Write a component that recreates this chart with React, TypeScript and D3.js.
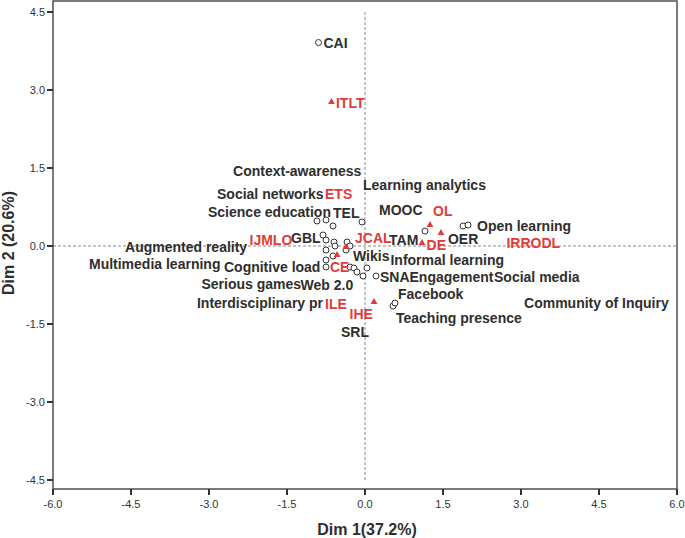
import React from "react";
import * as d3 from "d3";

// Keyword points (hollow circles), Dim1 / Dim2
const keywordPointX = [-0.894, -0.923, -0.75, -0.615, -0.058, -0.808, -0.75, -0.596, -0.577, -0.346, -0.288, -0.365, -0.75, -0.615, -0.75, -0.75, -0.288, -0.212, -0.154, 0.038, -0.038, 0.212, 1.154, 1.885, 1.981, 0.538, 0.577];
const keywordPointY = [3.913, 0.481, 0.5, 0.385, 0.462, 0.212, 0.115, 0.077, 0.0, 0.077, 0.0, -0.077, -0.077, -0.192, -0.269, -0.404, -0.404, -0.423, -0.5, -0.423, -0.577, -0.577, 0.288, 0.385, 0.404, -1.154, -1.096];

// Journal points (red triangles)
const journalPointX = [-0.644, 1.25, 1.462, 1.096, -0.365, -0.538, 0.173];
const journalPointY = [2.769, 0.404, 0.25, 0.058, -0.019, -0.173, -1.077];

// Keyword labels and their anchors
const keywordLabels = ["CAI", "Context-awareness", "Learning analytics", "Social networks", "Science education", "TEL", "MOOC", "Open learning", "OER", "TAM", "GBL", "Augmented reality", "Wikis", "Informal learning", "Multimedia learning", "Cognitive load", "SNA", "Engagement", "Social media", "Serious games", "Web 2.0", "Facebook", "Interdisciplinary pr", "Community of Inquiry", "Teaching presence", "SRL"];
const keywordLabelX = [-0.798, -2.538, -0.038, -2.846, -3.019, -0.615, 0.269, 2.154, 1.596, 0.462, -1.423, -4.615, -0.231, 0.49, -5.308, -2.712, 0.288, 0.856, 2.481, -3.144, -1.24, 0.635, -3.231, 3.058, 0.596, -0.462];
const keywordLabelY = [3.913, 1.452, 1.173, 1.0, 0.663, 0.635, 0.702, 0.394, 0.144, 0.125, 0.163, -0.01, -0.192, -0.26, -0.346, -0.394, -0.587, -0.587, -0.587, -0.721, -0.75, -0.923, -1.096, -1.087, -1.385, -1.654];

// Journal labels and their anchors
const journalLabels = ["ITLT", "ETS", "OL", "JCAL", "DE", "IRRODL", "IJMLO", "CE", "ILE", "IHE"];
const journalLabelX = [-0.558, -0.769, 1.308, -0.192, 1.183, 2.721, -2.221, -0.673, -0.769, -0.298];
const journalLabelY = [2.75, 1.0, 0.673, 0.163, 0.01, 0.067, 0.125, -0.413, -1.106, -1.298];

const xTicks = [-6.0, -4.5, -3.0, -1.5, 0.0, 1.5, 3.0, 4.5, 6.0];
const yTicks = [-4.5, -3.0, -1.5, 0.0, 1.5, 3.0, 4.5];

const xTitle = "Dim 1(37.2%)";
const yTitle = "Dim 2 (20.6%)";

const W = 685;
const H = 538;
const left = 53;
const right = 677;
const top = 1;
const bottom = 489;

const RED = "#e23a3a";
const DARK = "#2e2e2e";
const FONT = "'Liberation Sans', Arial, sans-serif";

export default function App() {
  const x = d3.scaleLinear().domain([-6, 6]).range([left, right]);
  const y = d3.scaleLinear().domain([-4.673, 4.712]).range([bottom, top]);
  const tri = d3.symbol().type(d3.symbolTriangle).size(20)() as string;

  return (
    <svg
      width={W}
      height={H}
      style={{ position: "absolute", left: 0, top: 0, display: "block", background: "#fff" }}
    >
      {/* reference lines */}
      <line x1={x(-6)} x2={x(6)} y1={y(0)} y2={y(0)} stroke="#8a8a8a" strokeWidth={1} strokeDasharray="3,2" />
      <line x1={x(0)} x2={x(0)} y1={y(4.5)} y2={y(-4.5)} stroke="#8a8a8a" strokeWidth={1} strokeDasharray="3,2" />

      {/* frame */}
      <rect x={left} y={top} width={right - left} height={bottom - top} fill="none" stroke="#444" strokeWidth={1.4} />

      {/* y ticks */}
      {yTicks.map((t) => (
        <g key={"y" + t}>
          <line x1={left - 6} x2={left} y1={y(t)} y2={y(t)} stroke="#333" strokeWidth={2} />
          <text x={left - 8} y={y(t) + 4} textAnchor="end" fontFamily={FONT} fontSize={11} fill="#333">
            {t.toFixed(1)}
          </text>
        </g>
      ))}

      {/* x ticks */}
      {xTicks.map((t) => (
        <g key={"x" + t}>
          <line x1={x(t)} x2={x(t)} y1={bottom} y2={bottom + 6} stroke="#333" strokeWidth={2} />
          <text x={x(t)} y={bottom + 19} textAnchor="middle" fontFamily={FONT} fontSize={11} fill="#333">
            {t.toFixed(1)}
          </text>
        </g>
      ))}

      {/* axis titles */}
      <text x={(left + right) / 2 + 2} y={535} textAnchor="middle" fontFamily={FONT} fontSize={16} fontWeight="bold" fill={DARK}>
        {xTitle}
      </text>
      <text
        transform={`translate(14, ${y(0) - 3}) rotate(-90)`}
        textAnchor="middle"
        fontFamily={FONT}
        fontSize={16}
        fontWeight="bold"
        fill={DARK}
      >
        {yTitle}
      </text>

      {/* keyword points */}
      {keywordPointX.map((vx, i) => (
        <circle key={"c" + i} cx={x(vx)} cy={y(keywordPointY[i])} r={3} fill="#fff" stroke="#333" strokeWidth={1} />
      ))}

      {/* journal points */}
      {journalPointX.map((vx, i) => (
        <path key={"t" + i} d={tri} transform={`translate(${x(vx)},${y(journalPointY[i])})`} fill={RED} />
      ))}

      {/* keyword labels */}
      {keywordLabels.map((lab, i) => (
        <text
          key={"kl" + i}
          x={x(keywordLabelX[i])}
          y={y(keywordLabelY[i]) + 5}
          fontFamily={FONT}
          fontSize={14}
          fontWeight="bold"
          fill={DARK}
        >
          {lab}
        </text>
      ))}

      {/* journal labels */}
      {journalLabels.map((lab, i) => (
        <text
          key={"jl" + i}
          x={x(journalLabelX[i])}
          y={y(journalLabelY[i]) + 5}
          fontFamily={FONT}
          fontSize={14}
          fontWeight="bold"
          fill={RED}
        >
          {lab}
        </text>
      ))}
    </svg>
  );
}
